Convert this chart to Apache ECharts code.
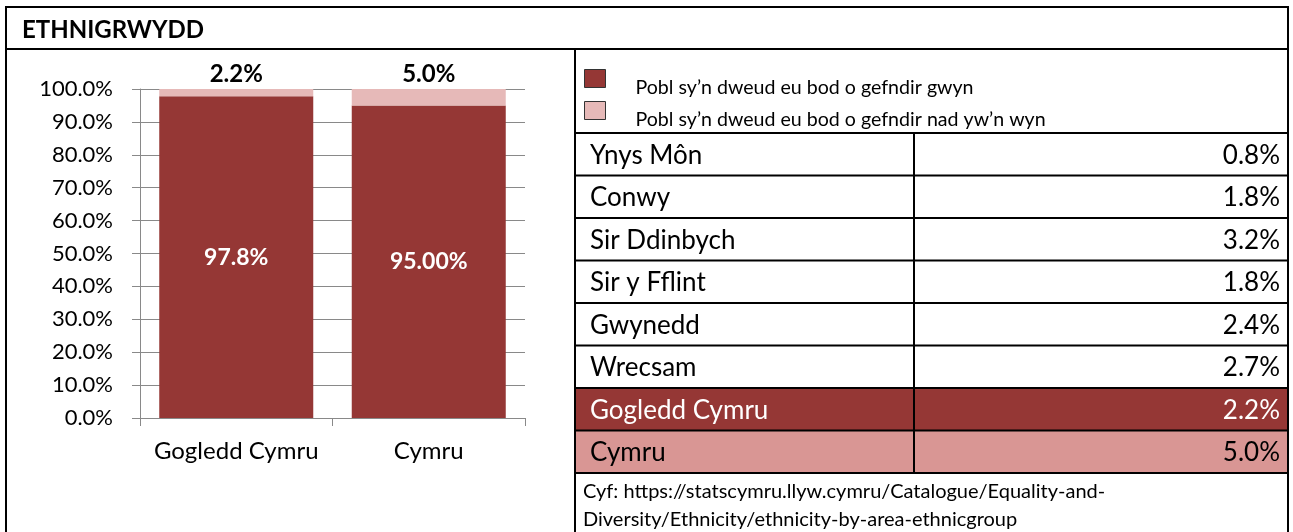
<!DOCTYPE html>
<html>
<head>
<meta charset="utf-8">
<script src="https://cdn.jsdelivr.net/npm/echarts@6/dist/echarts.min.js"></script>
<style>
html, body { margin: 0; padding: 0; background: #fff; }
#main { width: 1293px; height: 532px; }
</style>
</head>
<body>
<div id="main"></div>
<script>
// data
var categories = ['Gogledd Cymru', 'Cymru']
var whiteValues = [97.8, 95.0]
var nonWhiteValues = [2.2, 5.0]
var whiteLabels = ['97.8%', '95.00%']
var nonWhiteLabels = ['2.2%', '5.0%']
var yTicks = [0, 10, 20, 30, 40, 50, 60, 70, 80, 90, 100]
var seriesNames = [
  'Pobl sy\u2019n dweud eu bod o gefndir gwyn',
  'Pobl sy\u2019n dweud eu bod o gefndir nad yw\u2019n wyn'
]
var areaNames = ['Ynys Môn', 'Conwy', 'Sir Ddinbych', 'Sir y Fflint', 'Gwynedd', 'Wrecsam', 'Gogledd Cymru', 'Cymru']
var areaValues = ['0.8%', '1.8%', '3.2%', '1.8%', '2.4%', '2.7%', '2.2%', '5.0%']
var sourceLines = [
  'Cyf: https://statscymru.llyw.cymru/Catalogue/Equality-and-',
  'Diversity/Ethnicity/ethnicity-by-area-ethnicgroup'
]

var FONT = 'Lato, "Open Sans", sans-serif'
var DARK = '#953735'
var LIGHT = '#E6B9B8'
var PINK = '#D99694'
var AXIS = '#898989'

var myChart = echarts.init(document.getElementById('main'))

// frame + table built from the arrays above
var gfx = []
gfx.push({ type: 'rect', shape: { x: 6, y: 7, width: 1282, height: 540 }, style: { fill: null, stroke: '#000', lineWidth: 2 }, z: 10 })
gfx.push({ type: 'line', shape: { x1: 6, y1: 49, x2: 1288, y2: 49 }, style: { stroke: '#000', lineWidth: 2 }, z: 10 })
gfx.push({ type: 'line', shape: { x1: 575, y1: 49, x2: 575, y2: 540 }, style: { stroke: '#000', lineWidth: 2 }, z: 10 })
gfx.push({ type: 'text', x: 22, y: 30, style: { text: 'ETHNIGRWYDD', font: 'bold 24px ' + FONT, fill: '#000', verticalAlign: 'middle' } })

var tTop = 133, rowH = 42.5, tLeft = 575, tRight = 1288, tMid = 914
for (var i = 0; i < areaNames.length; i++) {
  var y0 = tTop + i * rowH
  var fill = i === 6 ? DARK : (i === 7 ? PINK : '#fff')
  var txt = i === 6 ? '#fff' : '#000'
  gfx.push({ type: 'rect', shape: { x: tLeft, y: y0, width: tRight - tLeft, height: rowH }, style: { fill: fill } })
  gfx.push({ type: 'text', x: 590, y: y0 + rowH / 2 + 1, style: { text: areaNames[i], font: '26px ' + FONT, fill: txt, verticalAlign: 'middle' }, z: 5 })
  gfx.push({ type: 'text', x: 1280, y: y0 + rowH / 2 + 1, style: { text: areaValues[i], font: '26px ' + FONT, fill: txt, align: 'right', verticalAlign: 'middle' }, z: 5 })
}
for (var j = 0; j <= areaNames.length; j++) {
  var yl = tTop + j * rowH
  gfx.push({ type: 'line', shape: { x1: tLeft, y1: yl, x2: tRight, y2: yl }, style: { stroke: '#000', lineWidth: 2 }, z: 8 })
}
gfx.push({ type: 'line', shape: { x1: tMid, y1: tTop, x2: tMid, y2: tTop + rowH * areaNames.length }, style: { stroke: '#000', lineWidth: 2 }, z: 8 })
for (var k = 0; k < sourceLines.length; k++) {
  gfx.push({ type: 'text', x: 583, y: 492 + k * 28, style: { text: sourceLines[k], font: '20px ' + FONT, fill: '#000', verticalAlign: 'middle' } })
}

function legendFor(idx, top) {
  return {
    data: [seriesNames[idx]],
    left: 584,
    top: top,
    padding: 0,
    orient: 'vertical',
    icon: 'rect',
    itemWidth: 21,
    itemHeight: 18,
    selectedMode: false,
    itemStyle: { borderColor: '#333', borderWidth: 1 },
    formatter: function (name) { return '{t|' + name + '}' },
    textStyle: {
      fontFamily: FONT, fontSize: 19.6, color: '#000',
      rich: { t: { fontFamily: FONT, fontSize: 19.6, color: '#000', padding: [18, 0, 0, 25] } }
    }
  }
}

var option = {
  backgroundColor: '#fff',
  animation: false,
  textStyle: { fontFamily: FONT },
  graphic: gfx,
  legend: [legendFor(0, 69), legendFor(1, 101)],
  grid: { left: 140, right: 768, top: 89, bottom: 114 },
  xAxis: {
    type: 'category',
    data: categories,
    axisLine: { lineStyle: { color: AXIS, width: 1 } },
    axisTick: { show: true, length: 8, lineStyle: { color: AXIS } },
    axisLabel: { interval: 0, fontFamily: FONT, fontSize: 24, color: '#000', margin: 21 }
  },
  yAxis: {
    type: 'value',
    min: 0,
    max: 100,
    interval: 10,
    axisLine: { show: true, lineStyle: { color: AXIS, width: 1 } },
    axisTick: { show: true, length: 8, lineStyle: { color: AXIS } },
    splitLine: { lineStyle: { color: AXIS, width: 1 } },
    axisLabel: {
      fontFamily: FONT, fontSize: 22, color: '#000', margin: 27,
      formatter: function (v) { return yTicks.indexOf(v) >= 0 ? v.toFixed(1) + '%' : '' }
    }
  },
  series: [
    {
      name: seriesNames[0],
      type: 'bar',
      stack: 'total',
      barCategoryGap: '20%',
      itemStyle: { color: DARK },
      label: {
        show: true, position: 'inside', color: '#fff', fontFamily: FONT, fontSize: 23, fontWeight: 'bold',
        formatter: function (p) { return whiteLabels[p.dataIndex] }
      },
      data: whiteValues
    },
    {
      name: seriesNames[1],
      type: 'bar',
      stack: 'total',
      barCategoryGap: '20%',
      itemStyle: { color: LIGHT },
      label: {
        show: true, position: 'top', distance: 3, color: '#000', fontFamily: FONT, fontSize: 24, fontWeight: 'bold',
        formatter: function (p) { return nonWhiteLabels[p.dataIndex] }
      },
      data: nonWhiteValues
    }
  ]
}
myChart.setOption(option)
</script>
</body>
</html>
